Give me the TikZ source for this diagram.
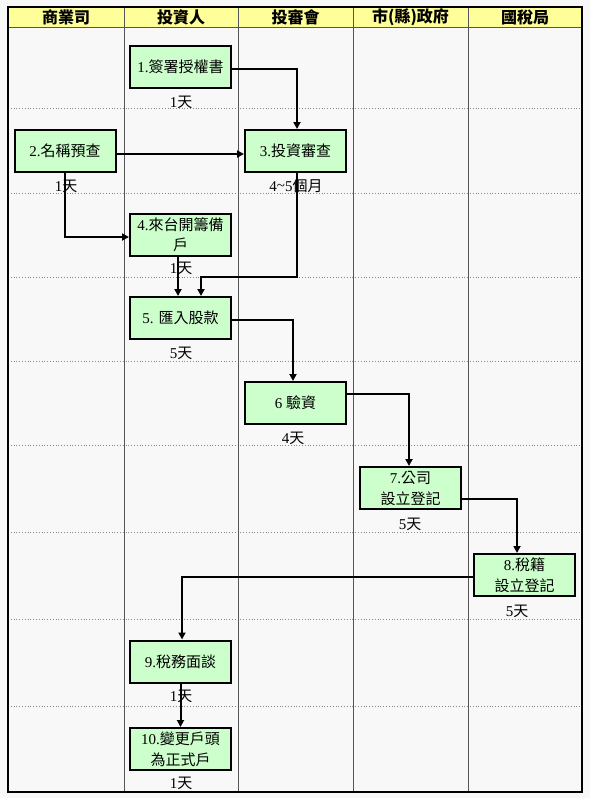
\documentclass[tikz,border=0pt]{standalone}
\usepackage{fontspec}
\setmainfont{Liberation Serif}
\newfontfamily\cjk{Noto Sans CJK TC}
\usetikzlibrary{arrows.meta}
\definecolor{hdrfill}{HTML}{FFFF99}
\definecolor{boxfill}{HTML}{CCFFCC}
\definecolor{cellbg}{HTML}{F8F8F8}
\definecolor{gridgray}{HTML}{555555}
\definecolor{dotgray}{HTML}{888888}
\newcommand\zh[1]{{\cjk #1}}
\tikzset{
  stepbox/.style={draw=black, line width=2pt, fill=boxfill, minimum width=101pt, minimum height=42pt,
    inner sep=1pt, align=center, font=\fontsize{15}{21}\selectfont},
  daylbl/.style={font=\fontsize{15}{18}\selectfont, inner sep=0pt},
  hdrlbl/.style={font=\fontsize{16}{18}\selectfont\bfseries, inner sep=0pt},
  arr/.style={line width=2pt, -{Triangle[length=7pt,width=7pt]}},
  colline/.style={draw=gridgray, line width=0.8pt},
  rowline/.style={draw=dotgray, line width=0.8pt, dotted},
}
\begin{document}
\begin{tikzpicture}[x=1pt,y=-1pt]
\useasboundingbox (0,0) rectangle (590,798);
\fill[cellbg] (0,0) rectangle (590,798);
% header
\fill[hdrfill] (8,7) rectangle (582,27);
\draw[gridgray, line width=0.8pt] (8,27) -- (582,27);
% rows
\foreach \yy in {108,193,277,361,445,532,619,706}
  \draw[rowline] (8,\yy) -- (582,\yy);
% columns
\foreach \xx in {124,238,353,468}
  \draw[colline] (\xx,7) -- (\xx,792);
% frame
\draw[black, line width=2.2pt] (8,7) rectangle (582,792);
% header texts
\node[hdrlbl] (h1) at (66,17) {\zh{商業司}};
\node[hdrlbl] (h2) at (181,17) {\zh{投資人}};
\node[hdrlbl] (h3) at (295.5,17) {\zh{投審會}};
\node[hdrlbl] (h4) at (410.5,17) {\zh{市(縣)政府}};
\node[hdrlbl] (h5) at (525,17) {\zh{國稅局}};
% boxes
\node[stepbox] (b1) at (180.5,67) {1.\zh{簽署授權書}};
\node[stepbox] (b2) at (65,151) {2.\zh{名稱預查}};
\node[stepbox] (b3) at (295.5,151) {3.\zh{投資審查}};
\node[stepbox] (b4) at (180.5,234.5) {4.\zh{來台開籌備}\\[-1pt]\zh{戶}};
\node[stepbox] (b5) at (180.5,318) {5. \zh{匯入股款}};
\node[stepbox] (b6) at (295.5,403) {6 \zh{驗資}};
\node[stepbox] (b7) at (410.5,488) {7.\zh{公司}\\\zh{設立登記}};
\node[stepbox] (b8) at (524.5,575) {8.\zh{稅籍}\\\zh{設立登記}};
\node[stepbox] (b9) at (180.5,661.5) {9.\zh{稅務面談}};
\node[stepbox] (b10) at (180.5,749) {10.\zh{變更戶頭}\\\zh{為正式戶}};
% duration labels
\node[daylbl] (d1) at (181,102) {1\zh{天}};
\node[daylbl] (d2) at (66,186) {1\zh{天}};
\node[daylbl] (d3) at (296,186) {4\raisebox{0.1ex}{\char`~}5\zh{個月}};
\node[daylbl] (d4) at (181,268) {1\zh{天}};
\node[daylbl] (d5) at (181,353) {5\zh{天}};
\node[daylbl] (d6) at (293,438) {4\zh{天}};
\node[daylbl] (d7) at (410,524) {5\zh{天}};
\node[daylbl] (d8) at (517,611) {5\zh{天}};
\node[daylbl] (d9) at (181,696) {1\zh{天}};
\node[daylbl] (d10) at (181,783) {1\zh{天}};
% connectors
\draw[arr] ([yshift=-2pt]b1.east) -| ([xshift=1.5pt]b3.north);
\draw[arr] ([yshift=-3pt]b2.east) -- ([yshift=-3pt]b3.west);
\draw[arr] (b2.south) |- ([yshift=-2.5pt]b4.west);
\draw[arr] ([xshift=-2.5pt]b4.south) -- ([xshift=-2.5pt]b5.north);
\draw[arr] ([xshift=1.5pt]b3.south) |- ([xshift=20.5pt,yshift=19pt]b5.north) -- ([xshift=20.5pt]b5.north);
\draw[arr] ([yshift=-2pt]b5.east) -| ([xshift=-2.5pt]b6.north);
\draw[arr] ([yshift=9pt]b6.east) -| ([xshift=-1.5pt]b7.north);
\draw[arr] ([yshift=-11pt]b7.east) -| ([xshift=-7.5pt]b8.north);
\draw[arr] ([yshift=-2pt]b8.west) -| ([xshift=1.5pt]b9.north);
\draw[arr] (b9.south) -- (b10.north);
\end{tikzpicture}
\end{document}
